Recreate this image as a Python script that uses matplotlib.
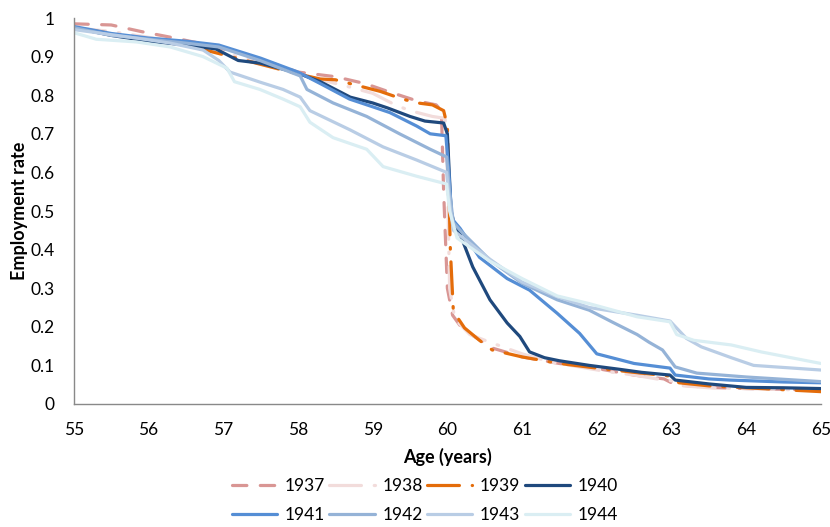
import matplotlib
matplotlib.use("Agg")
import matplotlib.pyplot as plt

plt.rcParams['font.family'] = ['Lato', 'DejaVu Sans']

cohorts = ["1937", "1938", "1939", "1940", "1941", "1942", "1943", "1944"]

age_1937 = [55.0, 55.5, 55.9, 56.3, 56.8, 57.3, 57.7, 58.0, 58.5, 58.9, 59.2, 59.6, 59.85, 59.92, 59.95, 60.0,
            60.07, 60.2, 60.4, 60.6, 61.0, 61.5, 62.0, 62.5, 62.9, 63.05, 63.5, 64.0, 64.5, 65.0]
emp_1937 = [0.985, 0.982, 0.965, 0.95, 0.93, 0.905, 0.88, 0.86, 0.848, 0.83, 0.81, 0.785, 0.775, 0.76, 0.55, 0.30,
            0.23, 0.195, 0.17, 0.145, 0.122, 0.105, 0.092, 0.075, 0.065, 0.05, 0.043, 0.04, 0.038, 0.035]

age_1938 = [55.0, 55.5, 56.0, 56.5, 57.0, 57.5, 58.0, 58.3, 58.6, 59.0, 59.3, 59.5, 59.8, 59.97, 60.0, 60.03,
            60.1, 60.3, 60.57, 61.0, 61.4, 61.8, 62.1, 62.5, 62.8, 63.0, 63.1, 63.5, 64.0, 65.0]
emp_1938 = [0.975, 0.965, 0.95, 0.935, 0.91, 0.885, 0.855, 0.84, 0.826, 0.805, 0.775, 0.76, 0.745, 0.74, 0.6, 0.3,
            0.22, 0.18, 0.16, 0.13, 0.108, 0.095, 0.085, 0.075, 0.065, 0.06, 0.048, 0.042, 0.04, 0.035]

age_1939 = [55.0, 55.5, 56.0, 56.5, 57.0, 57.5, 58.0, 58.3, 58.5, 58.7, 58.9, 59.1, 59.4, 59.6, 59.8, 59.95, 60.0,
            60.04, 60.08, 60.23, 60.43, 60.6, 61.0, 61.5, 62.0, 62.5, 63.0, 63.1, 63.5, 64.0, 64.5, 65.0]
emp_1939 = [0.975, 0.96, 0.945, 0.93, 0.905, 0.88, 0.855, 0.842, 0.84, 0.83, 0.82, 0.81, 0.79, 0.78, 0.775, 0.76, 0.72,
            0.40, 0.24, 0.197, 0.165, 0.14, 0.122, 0.105, 0.093, 0.082, 0.072, 0.055, 0.047, 0.042, 0.037, 0.032]

age_1940 = [55.0, 55.5, 56.0, 56.5, 56.9, 57.2, 57.5, 58.0, 58.3, 58.7, 59.0, 59.2, 59.5, 59.7, 59.95, 60.0, 60.05,
            60.1, 60.17, 60.34, 60.57, 60.8, 60.97, 61.1, 61.3, 61.5, 61.9, 62.3, 62.6, 62.98, 63.05, 63.5, 64.0,
            64.5, 65.0]
emp_1940 = [0.975, 0.955, 0.94, 0.93, 0.92, 0.89, 0.883, 0.857, 0.835, 0.795, 0.78, 0.767, 0.745, 0.733, 0.728, 0.70,
            0.50, 0.46, 0.44, 0.355, 0.27, 0.21, 0.175, 0.135, 0.12, 0.112, 0.1, 0.09, 0.082, 0.075, 0.062, 0.052,
            0.043, 0.042, 0.04]

age_1941 = [55.0, 55.5, 56.0, 56.5, 56.94, 57.5, 58.0, 58.3, 58.69, 59.0, 59.23, 59.59, 59.77, 59.98, 60.02, 60.06,
            60.17, 60.43, 60.8, 61.1, 61.47, 61.77, 62.0, 62.2, 62.5, 62.98, 63.05, 63.5, 63.78, 64.5, 65.0]
emp_1941 = [0.978, 0.96, 0.948, 0.94, 0.93, 0.896, 0.86, 0.83, 0.79, 0.77, 0.755, 0.72, 0.70, 0.695, 0.6, 0.48,
            0.455, 0.38, 0.325, 0.295, 0.235, 0.183, 0.13, 0.12, 0.105, 0.093, 0.075, 0.065, 0.062, 0.057, 0.055]

age_1942 = [55.0, 55.5, 56.0, 56.5, 56.94, 57.49, 58.03, 58.12, 58.47, 58.92, 59.36, 59.77, 59.99, 60.03, 60.08,
            60.17, 60.57, 61.0, 61.47, 61.9, 62.2, 62.54, 62.7, 62.88, 63.05, 63.34, 64.0, 65.0]
emp_1942 = [0.975, 0.955, 0.945, 0.935, 0.925, 0.89, 0.85, 0.815, 0.78, 0.745, 0.70, 0.66, 0.64, 0.55, 0.47,
            0.45, 0.373, 0.313, 0.27, 0.243, 0.213, 0.18, 0.16, 0.14, 0.096, 0.08, 0.07, 0.058]

age_1943 = [55.0, 55.84, 56.29, 56.73, 56.94, 57.09, 57.49, 57.8, 58.03, 58.16, 58.7, 59.14, 59.59, 59.99, 60.03,
            60.08, 60.57, 61.0, 61.47, 61.9, 62.54, 62.98, 63.2, 63.4, 63.8, 64.1, 65.0]
emp_1943 = [0.97, 0.948, 0.935, 0.917, 0.89, 0.86, 0.834, 0.815, 0.795, 0.76, 0.71, 0.666, 0.632, 0.60, 0.52,
            0.45, 0.375, 0.316, 0.278, 0.25, 0.23, 0.215, 0.17, 0.148, 0.12, 0.1, 0.088]

age_1944 = [55.0, 55.3, 55.84, 56.29, 56.73, 57.05, 57.15, 57.49, 57.8, 58.03, 58.16, 58.47, 58.92, 59.14, 59.59,
            59.99, 60.03, 60.13, 60.57, 61.0, 61.47, 61.9, 62.54, 62.98, 63.07, 63.3, 63.8, 64.2, 64.6, 65.0]
emp_1944 = [0.962, 0.945, 0.938, 0.925, 0.9, 0.87, 0.835, 0.815, 0.79, 0.77, 0.73, 0.69, 0.66, 0.615, 0.59,
            0.57, 0.5, 0.43, 0.37, 0.325, 0.28, 0.26, 0.226, 0.213, 0.18, 0.165, 0.153, 0.135, 0.12, 0.105]

x_ticks = [55, 56, 57, 58, 59, 60, 61, 62, 63, 64, 65]
y_ticks = [0, 0.1, 0.2, 0.3, 0.4, 0.5, 0.6, 0.7, 0.8, 0.9, 1]
y_tick_labels = ["0", "0.1", "0.2", "0.3", "0.4", "0.5", "0.6", "0.7", "0.8", "0.9", "1"]

ages = [age_1937, age_1938, age_1939, age_1940, age_1941, age_1942, age_1943, age_1944]
emps = [emp_1937, emp_1938, emp_1939, emp_1940, emp_1941, emp_1942, emp_1943, emp_1944]
colors = ["#D99694", "#F2DCDB", "#E46C0A", "#1F497D", "#558ED5", "#95B3D7", "#B9CDE5", "#DAEEF3"]
styles = [(0, (4.5, 4.2)), (0, (10, 4, 0.5, 4)), (0, (10, 4, 0.5, 4)),
          "-", "-", "-", "-", "-"]

fig = plt.figure(figsize=(8.30, 5.27), dpi=100)
ax = fig.add_axes([0.089, 0.2334, 0.900, 0.7324])

lines = []
for a, e, c, s, lab in zip(ages, emps, colors, styles, cohorts):
    ln, = ax.plot(a, e, color=c, linestyle=s, linewidth=2.3, label=lab,
                  solid_capstyle='round', dash_capstyle='round', solid_joinstyle='round')
    lines.append(ln)

ax.set_xlim(55, 65)
ax.set_ylim(0, 1)
ax.set_xticks(x_ticks)
ax.set_xticklabels([str(t) for t in x_ticks])
ax.set_yticks(y_ticks)
ax.set_yticklabels(y_tick_labels)
ax.tick_params(length=0, labelsize=12.5, colors="#000000")
ax.tick_params(axis='x', pad=13)
ax.tick_params(axis='y', pad=14)
for sp in ["top", "right"]:
    ax.spines[sp].set_visible(False)
for sp in ["left", "bottom"]:
    ax.spines[sp].set_color("#898989")
    ax.spines[sp].set_linewidth(1.0)

ax.set_xlabel("Age (years)", fontsize=13, fontweight='bold')
ax.set_ylabel("Employment rate", fontsize=13, fontweight='bold')
ax.xaxis.set_label_coords(0.5, -0.113)
ax.yaxis.set_label_coords(-0.062, 0.5)

order = [0, 4, 1, 5, 2, 6, 3, 7]
leg = fig.legend([lines[i] for i in order], [cohorts[i] for i in order],
                 ncol=4, loc='center', bbox_to_anchor=(0.512, 0.051), frameon=False,
                 fontsize=12.5, handlelength=2.6, columnspacing=0.25, handletextpad=0.45,
                 labelspacing=0.75)

fig.savefig("out.png", dpi=100)
